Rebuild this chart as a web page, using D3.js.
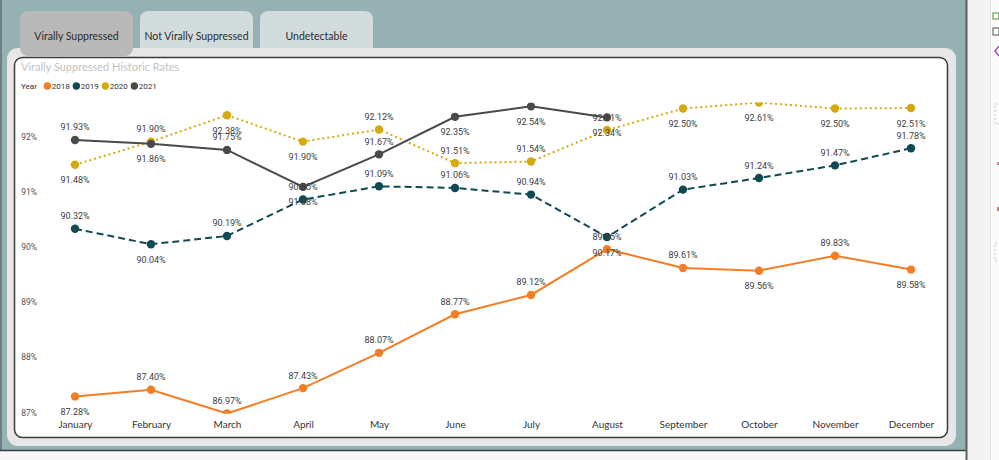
<!DOCTYPE html>
<html>
<head>
<meta charset="utf-8">
<script src="https://cdn.jsdelivr.net/npm/d3@7"></script>
<style>
  html, body { margin: 0; padding: 0; background: #f7f7f7; }
  svg { display: block; }
</style>
</head>
<body>
<svg id="chart" width="999" height="460"></svg>
<script>
// ---------- data ----------
const months = ["January","February","March","April","May","June","July","August","September","October","November","December"];
const years = ["2018","2019","2020","2021"];
const values2018 = [87.28, 87.40, 86.97, 87.43, 88.07, 88.77, 89.12, 89.95, 89.61, 89.56, 89.83, 89.58];
const values2019 = [90.32, 90.04, 90.19, 90.85, 91.09, 91.06, 90.94, 90.17, 91.03, 91.24, 91.47, 91.78];
const values2020 = [91.48, 91.90, 92.38, 91.90, 92.12, 91.51, 91.54, 92.11, 92.50, 92.61, 92.50, 92.51];
const values2021 = [91.93, 91.86, 91.75, 91.08, 91.67, 92.35, 92.54, 92.34];
const yTickValues = [87, 88, 89, 90, 91, 92];
const tabLabels = ["Virally Suppressed", "Not Virally Suppressed", "Undetectable"];
const chartTitle = "Virally Suppressed Historic Rates";
const legendTitle = "Year";

// ---------- styling config ----------
const colors = { "2018": "#f47d25", "2019": "#0f4a54", "2020": "#d4aa10", "2021": "#4a4a4a" };
const dashes = { "2018": null, "2019": "7,4", "2020": "2,3", "2021": null };
// label placement per point: A = above, B = below
const labelSide = {
  "2018": "BAAAAAAAABAB",
  "2019": "ABAAAAABAAAA",
  "2020": "BABBAAAABBBB",
  "2021": "ABABABBB"
};
const seriesValues = { "2018": values2018, "2019": values2019, "2020": values2020, "2021": values2021 };

const svg = d3.select("#chart");

// ---------- page chrome ----------
svg.append("rect").attr("x", 0).attr("y", 0).attr("width", 966).attr("height", 450).attr("fill", "#95b1b4");
svg.append("line").attr("x1", 1).attr("x2", 1).attr("y1", 0).attr("y2", 450).attr("stroke", "#6d7f80").attr("stroke-width", 2);
svg.append("line").attr("x1", 0).attr("x2", 966).attr("y1", 450.5).attr("y2", 450.5).attr("stroke", "#3d3d3d").attr("stroke-width", 1.5);
// right side panel
svg.append("rect").attr("x", 967).attr("y", 0).attr("width", 32).attr("height", 460).attr("fill", "#f3f3f3");
svg.append("line").attr("x1", 966.5).attr("x2", 966.5).attr("y1", 0).attr("y2", 460).attr("stroke", "#5e5e5e").attr("stroke-width", 2);
svg.append("line").attr("x1", 990.5).attr("x2", 990.5).attr("y1", 0).attr("y2", 460).attr("stroke", "#e2e2e2").attr("stroke-width", 1);
svg.append("rect").attr("x", 991).attr("y", 0).attr("width", 8).attr("height", 460).attr("fill", "#fafafa");
const icons = svg.append("g");
icons.append("rect").attr("x", 993).attr("y", 13).attr("width", 6).attr("height", 6).attr("fill", "none").attr("stroke", "#4a8a4a");
icons.append("rect").attr("x", 993).attr("y", 28).attr("width", 6).attr("height", 7).attr("fill", "none").attr("stroke", "#555");
icons.append("path").attr("d", "M999,46 L995,51 L999,56").attr("fill", "none").attr("stroke", "#a040c0").attr("stroke-width", 1.3);
icons.append("rect").attr("x", 995).attr("y", 104).attr("width", 8).attr("height", 20).attr("fill", "none").attr("stroke", "#ccc").attr("stroke-dasharray", "2,2");
icons.append("rect").attr("x", 995).attr("y", 243).attr("width", 8).attr("height", 18).attr("fill", "none").attr("stroke", "#ccc").attr("stroke-dasharray", "2,2");
icons.append("rect").attr("x", 997).attr("y", 162).attr("width", 2).attr("height", 3).attr("fill", "#c88");
icons.append("rect").attr("x", 997).attr("y", 207).attr("width", 2).attr("height", 4).attr("fill", "#c76");

// tabs (unselected first, behind panel)
const tabX = [20, 140, 260];
const tabW = 113;
tabLabels.forEach((t, i) => {
  if (i === 0) return;
  svg.append("rect").attr("x", tabX[i]).attr("y", 11).attr("width", tabW).attr("height", 50).attr("rx", 8)
    .attr("fill", "#d3dcdd");
});
// outer panel
svg.append("rect").attr("x", 7).attr("y", 48).attr("width", 949).attr("height", 398).attr("rx", 11).attr("fill", "#e7e7e7");
// selected tab
svg.append("rect").attr("x", tabX[0]).attr("y", 11).attr("width", tabW).attr("height", 45).attr("rx", 8)
  .attr("fill", "#b9b9b9");
tabLabels.forEach((t, i) => {
  svg.append("text").attr("x", tabX[i] + tabW / 2).attr("y", 40).attr("text-anchor", "middle")
    .attr("font-family", "Lato, 'Open Sans', sans-serif").attr("font-size", 10.5).attr("fill", "#2b2b2b").text(t);
});
// inner card
svg.append("rect").attr("x", 14.5).attr("y", 57.5).attr("width", 933).attr("height", 380).attr("rx", 8)
  .attr("fill", "#ffffff").attr("stroke", "#3b3b3b").attr("stroke-width", 1.5);

// title & legend
svg.append("text").attr("x", 21).attr("y", 71).attr("font-family", "Lato, sans-serif").attr("font-size", 11)
  .attr("fill", "#c3c3c3").text(chartTitle);
const legend = svg.append("g").attr("font-family", "Roboto, sans-serif").attr("font-size", 8).attr("fill", "#333");
let lx = 21;
const lt = legend.append("text").attr("x", lx).attr("y", 89).text(legendTitle);
lx += lt.node().getComputedTextLength() + 7;
years.forEach(yr => {
  legend.append("circle").attr("cx", lx + 3.5).attr("cy", 86).attr("r", 3.7).attr("fill", colors[yr]);
  const tx = legend.append("text").attr("x", lx + 8).attr("y", 89).text(yr);
  lx += 8 + tx.node().getComputedTextLength() + 3;
});

// ---------- scales ----------
const allValues = [].concat(values2018, values2019, values2020, values2021);
const x = d3.scalePoint().domain(months).range([75, 911]);
const y = d3.scaleLinear().domain(d3.extent(allValues)).range([413.5, 102.5]);

// y axis
const yAxis = d3.axisLeft(y).tickValues(yTickValues).tickFormat(d => d + "%").tickSize(0).tickPadding(0);
const gy = svg.append("g").attr("transform", "translate(37,0.5)").call(yAxis);
gy.select(".domain").remove();
gy.selectAll("text").attr("font-family", "Roboto, sans-serif").attr("font-size", 8.5).attr("fill", "#555");

// x axis
const xAxis = d3.axisBottom(x).tickSize(0).tickPadding(0);
const gx = svg.append("g").attr("transform", "translate(0,420.5)").call(xAxis);
gx.select(".domain").remove();
gx.selectAll("text").attr("font-family", "Lato, sans-serif").attr("font-size", 10).attr("fill", "#333");

// ---------- series ----------
svg.append("clipPath").attr("id", "plotclip").append("rect")
  .attr("x", 15).attr("y", 102.5).attr("width", 932).attr("height", 311);
const plot = svg.append("g").attr("clip-path", "url(#plotclip)");
const line = d3.line().x((d, i) => x(months[i])).y(d => y(d));

years.forEach(yr => {
  const vals = seriesValues[yr];
  plot.append("path").datum(vals).attr("d", line).attr("fill", "none")
    .attr("stroke", colors[yr]).attr("stroke-width", 2)
    .attr("stroke-dasharray", dashes[yr]);
});
years.forEach(yr => {
  const vals = seriesValues[yr];
  plot.selectAll(null).data(vals).enter().append("circle")
    .attr("cx", (d, i) => x(months[i])).attr("cy", d => y(d)).attr("r", 4.2)
    .attr("fill", colors[yr]);
});
const labels = svg.append("g").attr("font-family", "Roboto, sans-serif").attr("font-size", 9)
  .attr("fill", "#3d3d3d").attr("text-anchor", "middle");
years.forEach(yr => {
  const vals = seriesValues[yr];
  labels.selectAll(null).data(vals).enter().append("text")
    .attr("x", (d, i) => x(months[i]))
    .attr("y", (d, i) => y(d) + (labelSide[yr][i] === "A" ? -9.5 : 18.5))
    .text(d => d.toFixed(2) + "%");
});
</script>
</body>
</html>
